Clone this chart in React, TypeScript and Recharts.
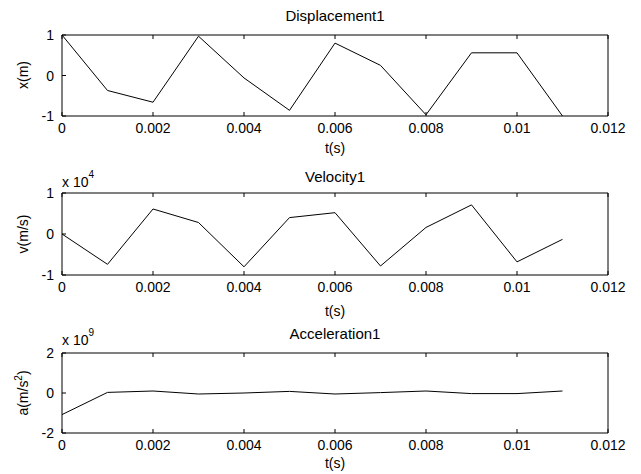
import { LineChart, Line, XAxis, YAxis } from 'recharts'

// time samples (s)
const T = [0, 0.001, 0.002, 0.003, 0.004, 0.005, 0.006, 0.007, 0.008, 0.009, 0.01, 0.011]
const X_TICKS = [0, 0.002, 0.004, 0.006, 0.008, 0.01, 0.012]

// displacement x(m)
const DISP = [1.0, -0.37, -0.66, 0.97, -0.06, -0.86, 0.8, 0.25, -0.97, 0.56, 0.56, -1.0]
// velocity v(m/s)
const VEL = [0, -7400, 6100, 2800, -8000, 4000, 5200, -7800, 1600, 7100, -6800, -1300]
// acceleration a(m/s^2)
const ACC = [-1.08e9, 0.03e9, 0.1e9, -0.05e9, 0, 0.08e9, -0.05e9, 0.02e9, 0.1e9, -0.03e9, -0.03e9, 0.1e9]

const W = 641
const H = 474
const FONT = '"Liberation Sans", Arial, Helvetica, sans-serif'
const TICK_LEN = 4

const fmtX = (v: number) => String(Number(v.toFixed(3)))

// matlab style: tick marks point into the plot box
const BottomTick = (p: any) => (
  <g>
    <line x1={p.x} x2={p.x} y1={p.y} y2={p.y - TICK_LEN} stroke="#000" />
    <text x={p.x} y={p.y + 17} textAnchor="middle" fontSize={14} fontFamily={FONT} fill="#000">
      {fmtX(p.payload.value)}
    </text>
  </g>
)
const TopTick = (p: any) => <line x1={p.x} x2={p.x} y1={p.y} y2={p.y + TICK_LEN} stroke="#000" />
const RightTick = (p: any) => <line x1={p.x} x2={p.x - TICK_LEN} y1={p.y} y2={p.y} stroke="#000" />

const makeLeftTick = (scale: number) => (p: any) => (
  <g>
    <line x1={p.x} x2={p.x + TICK_LEN} y1={p.y} y2={p.y} stroke="#000" />
    <text x={p.x - 8} y={p.y + 5} textAnchor="end" fontSize={14} fontFamily={FONT} fill="#000">
      {String(p.payload.value / scale)}
    </text>
  </g>
)

interface PanelProps {
  values: number[]
  top: number
  bottom: number
  yDomain: [number, number]
  yTicks: number[]
  scale: number
}

function Panel({ values, top, bottom, yDomain, yTicks, scale }: PanelProps) {
  const data = T.map((t, i) => ({ t, v: values[i] }))
  return (
    <div style={{ position: 'absolute', left: 0, top: 0 }}>
      <LineChart
        width={W}
        height={H}
        data={data}
        margin={{ top: top - 1, bottom: H - bottom - 30, left: 22, right: W - 609 }}
      >
        <XAxis
          xAxisId="b"
          dataKey="t"
          type="number"
          domain={[0, 0.012]}
          ticks={X_TICKS}
          tickLine={false}
          tickSize={0}
          tickMargin={0}
          height={30}
          stroke="#000"
          tick={BottomTick}
        />
        <XAxis
          xAxisId="t"
          orientation="top"
          dataKey="t"
          type="number"
          domain={[0, 0.012]}
          ticks={X_TICKS}
          tickLine={false}
          tickSize={0}
          tickMargin={0}
          tick={TopTick}
          height={1}
          stroke="#000"
        />
        <YAxis
          yAxisId="l"
          type="number"
          domain={yDomain}
          ticks={yTicks}
          tickLine={false}
          tickSize={0}
          tickMargin={0}
          width={40}
          stroke="#000"
          tick={makeLeftTick(scale)}
        />
        <YAxis
          yAxisId="r"
          orientation="right"
          type="number"
          domain={yDomain}
          ticks={yTicks}
          tickLine={false}
          tickSize={0}
          tickMargin={0}
          tick={RightTick}
          width={1}
          stroke="#000"
        />
        <Line
          xAxisId="b"
          yAxisId="l"
          type="linear"
          dataKey="v"
          stroke="#000"
          strokeWidth={1}
          dot={false}
          isAnimationActive={false}
        />
      </LineChart>
    </div>
  )
}

export default function App() {
  return (
    <div style={{ position: 'absolute', left: 0, top: 0, width: W, height: H, background: '#fff' }}>
      <Panel values={DISP} top={35} bottom={116} yDomain={[-1, 1]} yTicks={[-1, 0, 1]} scale={1} />
      <Panel values={VEL} top={193} bottom={275} yDomain={[-1e4, 1e4]} yTicks={[-1e4, 0, 1e4]} scale={1e4} />
      <Panel values={ACC} top={353} bottom={433} yDomain={[-2e9, 2e9]} yTicks={[-2e9, 0, 2e9]} scale={1e9} />
      <svg
        width={W}
        height={H}
        style={{ position: 'absolute', left: 0, top: 0, pointerEvents: 'none' }}
        fontFamily={FONT}
        fontSize={14}
        fill="#000"
      >
        <text x={335} y={21} textAnchor="middle" fontSize={15}>Displacement1</text>
        <text x={335} y={182} textAnchor="middle" fontSize={15}>Velocity1</text>
        <text x={335} y={339} textAnchor="middle" fontSize={15}>Acceleration1</text>

        <text x={335} y={153} textAnchor="middle">t(s)</text>
        <text x={335} y={316} textAnchor="middle">t(s)</text>
        <text x={335} y={468} textAnchor="middle">t(s)</text>

        <text transform="translate(28,75) rotate(-90)" textAnchor="middle">x(m)</text>
        <text transform="translate(28,234) rotate(-90)" textAnchor="middle">v(m/s)</text>
        <text transform="translate(28,393) rotate(-90)" textAnchor="middle">
          a(m/s<tspan fontSize={10} dy={-6}>2</tspan>
          <tspan dy={6}>)</tspan>
        </text>

        <text x={62} y={187}>
          x 10<tspan fontSize={10} dy={-9}>4</tspan>
        </text>
        <text x={62} y={345}>
          x 10<tspan fontSize={10} dy={-9}>9</tspan>
        </text>
      </svg>
    </div>
  )
}
